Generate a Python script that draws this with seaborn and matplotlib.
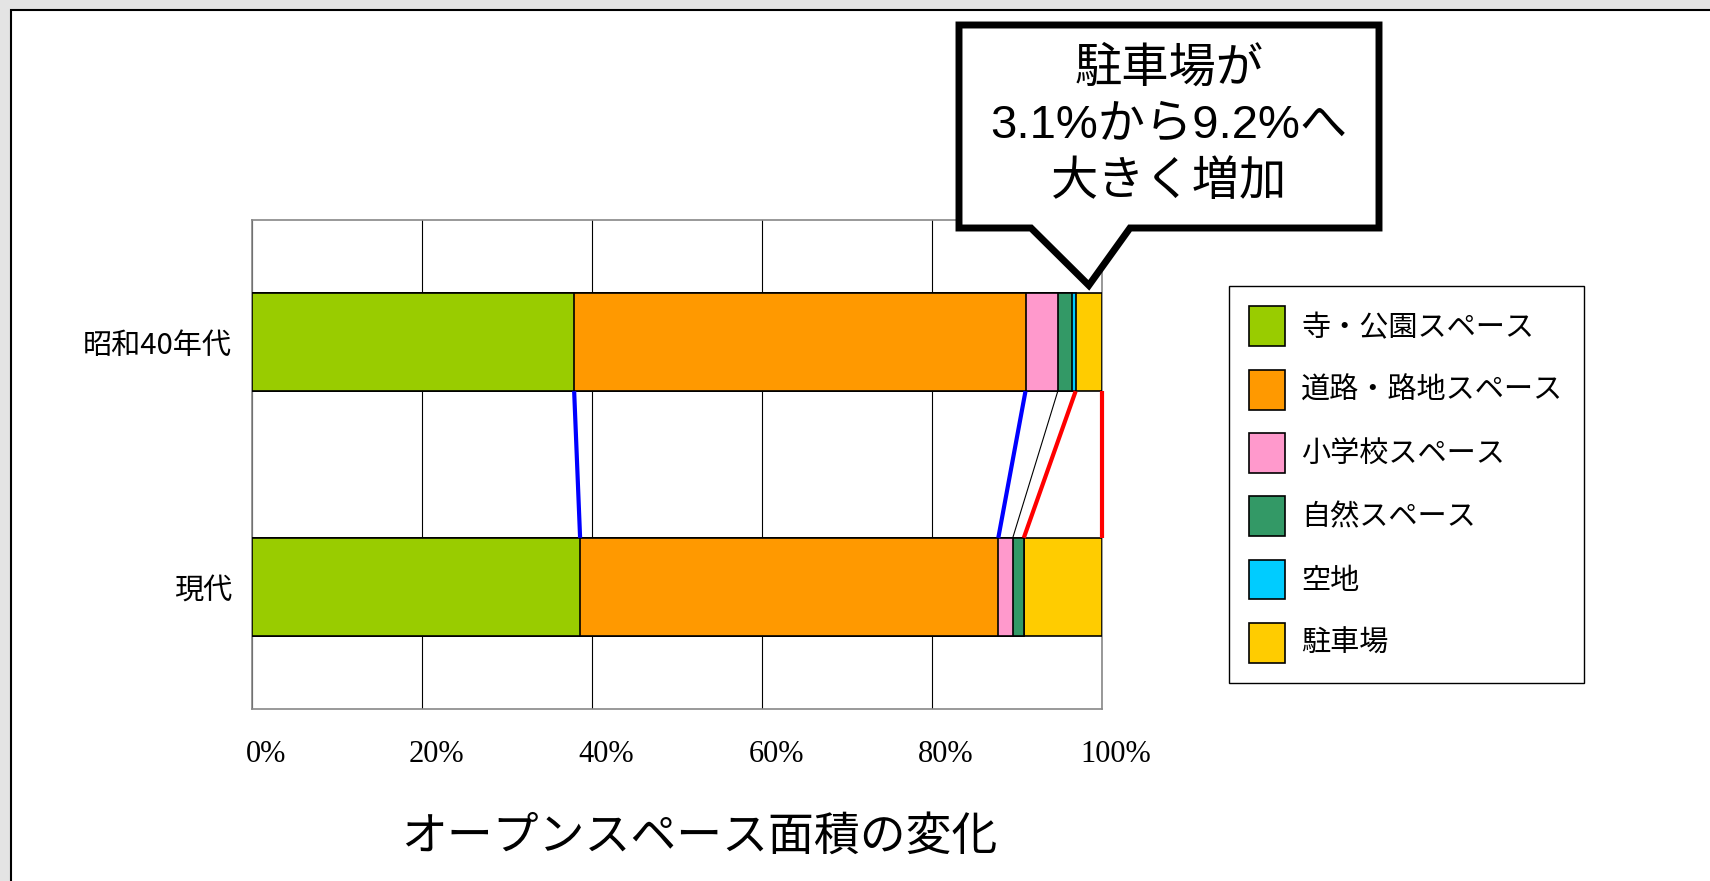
import matplotlib
matplotlib.use("Agg")
import matplotlib.pyplot as plt
from matplotlib.patches import Patch, Polygon, Rectangle
from matplotlib.transforms import ScaledTranslation, IdentityTransform
import seaborn as sns
import pandas as pd

# data
periods = ["昭和40年代", "現代"]
categories = ["寺・公園スペース", "道路・路地スペース", "小学校スペース", "自然スペース", "空地", "駐車場"]
colors = ["#99cc00", "#ff9900", "#ff99cc", "#339966", "#00ccff", "#ffcc00"]
showa40 = [37.9, 53.1, 3.8, 1.7, 0.4, 3.1]
gendai = [38.6, 49.2, 1.7, 1.3, 0.0, 9.2]
xticks = [0, 20, 40, 60, 80, 100]
xtick_labels = ["0%", "20%", "40%", "60%", "80%", "100%"]
title = "オープンスペース面積の変化"
callout = "駐車場が\n3.1%から9.2%へ\n大きく増加"

sns.set_style("white")
plt.rcParams["font.family"] = ["Noto Sans CJK JP", "DejaVu Sans"]
plt.rcParams["text.color"] = "black"
plt.rcParams["xtick.color"] = "black"
plt.rcParams["ytick.color"] = "black"

df = pd.DataFrame({"category": categories, periods[0]: showa40, periods[1]: gendai})
cum = df[periods].cumsum()

W, H = 1710, 881
fig = plt.figure(figsize=(W / 100, H / 100), dpi=100)
fig.patch.set_facecolor("#e4e4e4")
fig.add_artist(Rectangle((11, -10), W + 20, H, transform=IdentityTransform(),
                         facecolor="white", edgecolor="black", linewidth=1.5, zorder=-1))

ax = fig.add_axes([252 / W, 1 - 709 / H, 850 / W, 489 / H])

# stacked bars: cumulative totals drawn from the last one, each covering the previous
for i in range(len(categories) - 1, -1, -1):
    part = pd.DataFrame({"period": periods, "value": cum.iloc[i].values})
    sns.barplot(data=part, x="value", y="period", orient="h", color=colors[i],
                saturation=1, width=0.4, edgecolor="black", linewidth=1.2,
                errorbar=None, ax=ax, zorder=3)

# lines linking the boundaries of the two bars
links = [(0, "#0000ff", 3), (1, "#0000ff", 3), (2, "black", 0.8), (4, "#ff0000", 3), (5, "#ff0000", 3)]
for i, c, lw in links:
    ax.plot([cum.iloc[i, 0], cum.iloc[i, 1]], [0.2, 0.8], color=c, lw=lw,
            solid_capstyle="butt", zorder=4, clip_on=False)

ax.set_xlim(0, 100)
ax.set_ylim(1.5, -0.5)
ax.set_xticks(xticks, xtick_labels)
ax.set_xlabel("")
ax.set_ylabel("")
ax.grid(axis="x", color="black", linewidth=0.8)
ax.set_axisbelow(True)
for s in ax.spines.values():
    s.set_color("#888888")
    s.set_linewidth(1.2)
ax.tick_params(axis="x", length=0, pad=22, labelsize=22, labelcolor="black")
ax.tick_params(axis="y", length=0, pad=14.4, labelsize=21, labelcolor="black")
for lab in ax.get_xticklabels():
    lab.set_fontfamily("Liberation Serif")
    lab.set_transform(lab.get_transform() + ScaledTranslation(0.14, 0, fig.dpi_scale_trans))

handles = [Patch(facecolor=c, edgecolor="black", linewidth=1.2, label=l) for c, l in zip(colors, categories)]
leg = ax.legend(handles=handles, loc="upper left", bbox_to_anchor=(1229 / W, 1 - 286 / H),
                bbox_transform=fig.transFigure, fontsize=21, frameon=True, fancybox=False,
                framealpha=1, edgecolor="black", borderaxespad=0, borderpad=0.7,
                handlelength=1.23, handleheight=1.73, handletextpad=0.55, labelspacing=0.8)
leg.get_frame().set_linewidth(1)
for t in leg.get_texts():
    t.set_color("black")

# callout balloon pointing at the parking segment
tx, ty = ax.transData.transform((cum.iloc[4, 0] + showa40[5] / 2, -0.2))
ty += 8
verts = [(959, H - 25), (1379, H - 25), (1379, H - 228), (1130, H - 228), (tx, ty),
         (1031, H - 228), (959, H - 228)]
fig.add_artist(Polygon(verts, closed=True, transform=IdentityTransform(), facecolor="white",
                       edgecolor="black", linewidth=5, joinstyle="miter", zorder=5))
fig.text(1169 / W, 1 - 126 / H, callout, ha="center", va="center", fontsize=34,
         linespacing=1.38, family=["Liberation Sans", "Noto Sans CJK JP"], zorder=6)

fig.text(699 / W, 1 - 836 / H, title, ha="center", va="center", fontsize=33)

fig.savefig("out.png", dpi=100)
